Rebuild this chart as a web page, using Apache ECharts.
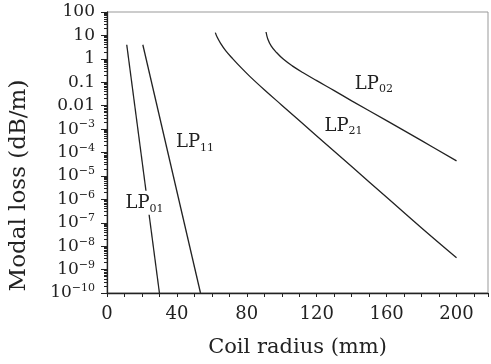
<!DOCTYPE html>
<html>
<head>
<meta charset="utf-8">
<script src="https://cdn.jsdelivr.net/npm/echarts@6/dist/echarts.min.js"></script>
<style>
  html, body { margin: 0; padding: 0; background: #fff; }
  #chart { width: 491px; height: 364px; }
</style>
</head>
<body>
<div id="chart"></div>
<script>
  // coil radius (mm) and modal loss (dB/m)
  var lp01X = [11.3, 30];
  var lp01Y = [4, 1e-10];
  var lp11X = [20.5, 53.5];
  var lp11Y = [4, 1e-10];
  var lp21X = [62, 63, 65, 68, 72, 77, 82, 90, 100, 120, 140, 160, 180, 200];
  var lp21Y = [13.2, 8.5, 4.6, 2.19, 1.0, 0.4, 0.17, 0.048, 0.0105, 5.1e-4, 2.5e-5, 1.23e-6, 6.0e-8, 3.2e-9];
  var lp02X = [91, 92, 94, 97, 101, 106, 112, 120, 130, 140, 160, 180, 200];
  var lp02Y = [14, 7.1, 3.5, 1.86, 0.95, 0.5, 0.26, 0.117, 0.044, 0.016, 2.3e-3, 3.2e-4, 4.4e-5];

  // curve labels: [main, subscript, x, y]
  var labels = [
    ['LP', '01', 21.5, 7.2e-7],
    ['LP', '11', 50.4, 3e-4],
    ['LP', '21', 135.3, 1.5e-3],
    ['LP', '02', 152.7, 0.093]
  ];

  var FONT = 'DejaVu Serif';
  var INK = '#222';

  function pairs(xs, ys) {
    return xs.map(function (x, i) { return [x, ys[i]]; });
  }

  function lineSeries(name, xs, ys) {
    return {
      name: name,
      type: 'line',
      data: pairs(xs, ys),
      smooth: 0.4,
      symbol: 'none',
      silent: true,
      lineStyle: { color: INK, width: 1.3 }
    };
  }

  var chart = echarts.init(document.getElementById('chart'));

  var option = {
    animation: false,
    grid: {
      left: 107, right: 1, top: 12, bottom: 71,
      show: true, borderColor: '#999', borderWidth: 1
    },
    xAxis: {
      type: 'value',
      min: 0,
      max: 218,
      interval: 10,
      name: 'Coil radius (mm)',
      nameLocation: 'middle',
      nameGap: 44,
      nameTextStyle: { fontFamily: FONT, fontSize: 21, color: INK },
      axisLine: { lineStyle: { color: INK, width: 1.3 } },
      axisTick: { length: 4, lineStyle: { color: INK } },
      splitLine: { show: false },
      axisLabel: {
        margin: 12,
        fontFamily: FONT, fontSize: 18, color: INK,
        formatter: function (v) { return v % 40 === 0 ? String(v) : ''; }
      }
    },
    yAxis: {
      type: 'log',
      logBase: 10,
      min: 1e-10,
      max: 100,
      interval: 1,
      name: 'Modal loss (dB/m)',
      nameLocation: 'middle',
      nameGap: 76,
      nameTextStyle: { fontFamily: FONT, fontSize: 23, color: INK, padding: [0, 66, 0, 0] },
      axisLine: { lineStyle: { color: INK, width: 1.3 } },
      axisTick: { length: 6, lineStyle: { color: INK } },
      minorTick: { show: true, splitNumber: 9, length: 3, lineStyle: { color: INK } },
      splitLine: { show: false },
      axisLabel: {
        margin: 12,
        interval: 0,
        color: INK,
        formatter: function (v) {
          var e = Math.round(Math.log10(v));
          if (e >= -2) return '{b|' + (e >= 0 ? String(Math.pow(10, e)) : (e === -1 ? '0.1' : '0.01')) + '}';
          return '{b|10}{s|\u2212' + (-e) + '}';
        },
        rich: {
          b: { fontFamily: FONT, fontSize: 17, color: INK, lineHeight: 20 },
          s: { fontFamily: FONT, fontSize: 11, color: INK, verticalAlign: 'top', lineHeight: 12 }
        }
      }
    },
    series: [
      lineSeries('LP01', lp01X, lp01Y),
      lineSeries('LP11', lp11X, lp11Y),
      lineSeries('LP21', lp21X, lp21Y),
      lineSeries('LP02', lp02X, lp02Y)
    ]
  };
  chart.setOption(option);

  // place curve names at their data positions
  var texts = labels.map(function (l, i) {
    var p = chart.convertToPixel({ gridIndex: 0 }, [l[2], l[3]]);
    return {
      type: 'text',
      x: p[0],
      y: p[1],
      z: 100,
      style: {
        text: '{m|' + l[0] + '}{s|' + l[1] + '}',
        align: 'center',
        verticalAlign: 'middle',
        backgroundColor: i === 0 ? '#fff' : 'transparent',
        padding: [2, 1, 0, 1],
        rich: {
          m: { fontFamily: FONT, fontSize: 18, fill: INK, color: INK, lineHeight: 22 },
          s: { fontFamily: FONT, fontSize: 11, fill: INK, color: INK, verticalAlign: 'bottom', lineHeight: 12 }
        }
      }
    };
  });
  chart.setOption({ graphic: texts });
</script>
</body>
</html>
